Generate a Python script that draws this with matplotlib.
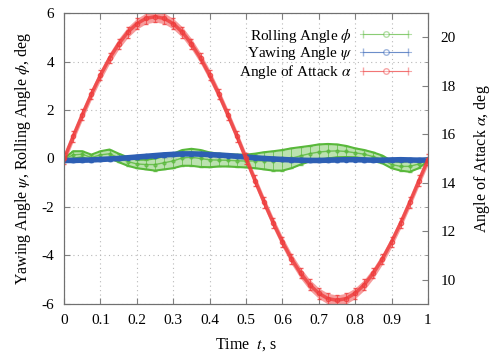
import numpy as np
import matplotlib
matplotlib.use('Agg')
import matplotlib.pyplot as plt
from matplotlib.container import ErrorbarContainer
from matplotlib.legend_handler import HandlerErrorbar

plt.rcParams['font.family'] = ['Liberation Serif', 'DejaVu Serif']
plt.rcParams['mathtext.fontset'] = 'stix'
plt.rcParams['axes.unicode_minus'] = False
plt.rcParams['font.size'] = 11.5

t = [0.000, 0.025, 0.050, 0.075, 0.100, 0.125, 0.150, 0.175, 0.200, 0.225,
     0.250, 0.275, 0.300, 0.325, 0.350, 0.375, 0.400, 0.425, 0.450, 0.475,
     0.500, 0.525, 0.550, 0.575, 0.600, 0.625, 0.650, 0.675, 0.700, 0.725,
     0.750, 0.775, 0.800, 0.825, 0.850, 0.875, 0.900, 0.925, 0.950, 0.975, 1.000]

# rolling angle phi, deg (upper / lower edge of the spread)
roll_hi = [0.00, 0.30, 0.30, 0.16, 0.30, 0.37, 0.20, 0.05, -0.05, -0.05,
           0.00, 0.10, 0.20, 0.35, 0.40, 0.35, 0.25, 0.20, 0.18, 0.16,
           0.16, 0.20, 0.26, 0.30, 0.35, 0.42, 0.47, 0.52, 0.58, 0.60,
           0.58, 0.52, 0.42, 0.35, 0.25, 0.12, -0.10, -0.15, -0.10, -0.05, 0.00]
roll_lo = [-0.05, 0.00, 0.05, -0.08, 0.00, 0.02, -0.15, -0.30, -0.40, -0.45,
           -0.50, -0.45, -0.40, -0.30, -0.30, -0.35, -0.36, -0.33, -0.33, -0.35,
           -0.37, -0.40, -0.45, -0.50, -0.50, -0.40, -0.25, -0.12, -0.05, 0.00,
           0.05, 0.06, 0.05, 0.00, -0.10, -0.20, -0.40, -0.50, -0.55, -0.40, -0.10]

# yawing angle psi, deg
yaw = [-0.08, -0.08, -0.07, -0.06, -0.04, -0.02, 0.00, 0.03, 0.06, 0.09,
       0.12, 0.15, 0.17, 0.19, 0.19, 0.18, 0.16, 0.14, 0.12, 0.09,
       0.06, 0.03, 0.00, -0.02, -0.04, -0.06, -0.07, -0.08, -0.08, -0.07,
       -0.06, -0.05, -0.05, -0.06, -0.07, -0.07, -0.06, -0.05, -0.06, -0.07, -0.06]
yaw_err = 0.07

# angle of attack alpha, deg
aoa = [15.00, 15.92, 16.81, 17.66, 18.44, 19.14, 19.73, 20.21, 20.56, 20.78,
       20.85, 20.78, 20.56, 20.21, 19.73, 19.14, 18.44, 17.66, 16.81, 15.92,
       15.00, 14.08, 13.19, 12.34, 11.56, 10.86, 10.27, 9.79, 9.44, 9.22,
       9.15, 9.22, 9.44, 9.79, 10.27, 10.86, 11.56, 12.34, 13.19, 14.08, 14.95]
aoa_err = 0.22

roll = [(a + b) / 2 for a, b in zip(roll_hi, roll_lo)]
roll_err = [(a - b) / 2 for a, b in zip(roll_hi, roll_lo)]

green = '#58b83a'
blue = '#2d5fb4'
red = '#ee3b3b'

fig = plt.figure(figsize=(4.97, 3.53), dpi=100)
ax1 = fig.add_axes([0.129, 0.139, 0.732, 0.824])
ax2 = ax1.twinx()

# rolling
ax1.fill_between(t, roll_lo, roll_hi, color=green, alpha=0.4, lw=0)
ax1.plot(t, roll_hi, color=green, lw=1.5)
ax1.plot(t, roll_lo, color=green, lw=1.5)
ax1.errorbar(t, roll, yerr=roll_err, color=green, lw=1.0, marker='o', ms=2,
             mfc='none', capsize=1.2, elinewidth=0.6, alpha=0.8)
# yawing
ax1.errorbar(t, yaw, yerr=yaw_err, color=blue, lw=4, marker='o', ms=3,
             mfc='none', capsize=1.2, elinewidth=0.6)

# angle of attack
ax2.fill_between(t, [a - aoa_err for a in aoa], [a + aoa_err for a in aoa],
                 color=red, alpha=0.5, lw=0)
ax2.errorbar(t, aoa, yerr=aoa_err, color=red, lw=2.5, marker='o', ms=3,
             mfc='none', capsize=1.2, elinewidth=0.6, alpha=0.8)

# legend samples: thin pale bar with end caps and open circle
handles = []
for c in (green, blue, red):
    h = ax1.errorbar([np.nan], [np.nan], xerr=[1], color=c, lw=0.8, marker='o',
                     ms=4, mfc='white', capsize=3, elinewidth=0.8, alpha=0.45)
    handles.append(h)
labels = [r'Rolling Angle $\phi$', r'Yawing Angle $\psi$', r'Angle of Attack $\alpha$']

ax1.set_xlim(0, 1)
ax1.set_ylim(-6, 6)
ax2.set_ylim(9, 21)

xt = [0, 0.1, 0.2, 0.3, 0.4, 0.5, 0.6, 0.7, 0.8, 0.9, 1]
ax1.set_xticks(xt)
ax1.set_xticklabels(['0', '0.1', '0.2', '0.3', '0.4', '0.5', '0.6', '0.7', '0.8', '0.9', '1'])
ax1.set_yticks([-6, -4, -2, 0, 2, 4, 6])
ax2.set_yticks([10, 12, 14, 16, 18, 20])
ax2.set_yticks([9, 11, 13, 15, 17, 19, 21], minor=True)

ax1.grid(True, color='#b8b8b8', linestyle=(0, (1, 3)), lw=0.8)
ax1.tick_params(direction='in', length=4, color='#808080', top=True, right=False,
                labelsize=11, pad=7)
ax2.tick_params(direction='in', length=4, color='#808080', labelsize=11, pad=9)
ax2.tick_params(which='minor', direction='in', length=2, color='#808080')
for a in (ax1, ax2):
    for s in a.spines.values():
        s.set_color('#707070')

ax1.set_xlabel(r'Time  $t$, s', labelpad=7)
ax1.set_ylabel(r'Yawing Angle $\psi$, Rolling Angle $\phi$, deg', labelpad=6)
ax2.set_ylabel(r'Angle of Attack $\alpha$, deg', labelpad=12)

leg = ax1.legend(handles, labels, loc='upper right', bbox_to_anchor=(0.98, 0.985),
                 frameon=False, markerfirst=False, handlelength=3.4,
                 handletextpad=0.5, labelspacing=0.05, borderaxespad=0.2,
                 fontsize=11,
                 handler_map={ErrorbarContainer: HandlerErrorbar(xerr_size=1.5)})
ax1.set_zorder(ax2.get_zorder() - 1)
ax1.patch.set_visible(True)
ax2.patch.set_visible(False)

fig.savefig('out.png', dpi=100)
